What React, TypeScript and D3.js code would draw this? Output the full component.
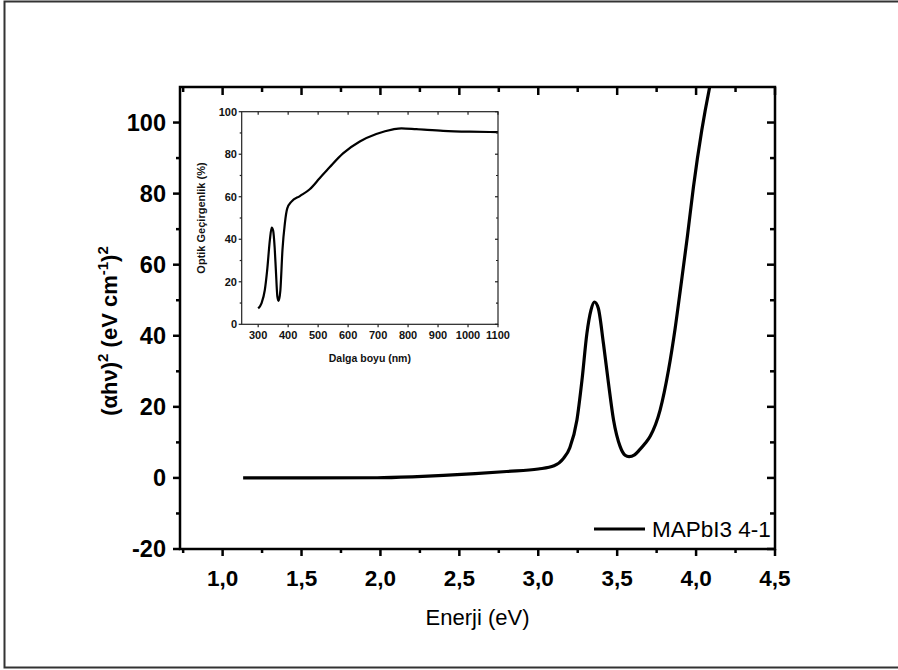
import React from 'react';
import * as d3 from 'd3';

// Main curve: (αhν)² versus photon energy
const energy = [1.13, 1.5, 1.98, 2.2, 2.4, 2.6, 2.8, 3.0, 3.1, 3.16, 3.2, 3.245, 3.277, 3.308, 3.334, 3.356, 3.38, 3.413, 3.445, 3.477, 3.519, 3.55, 3.575, 3.61, 3.64, 3.675, 3.71, 3.772, 3.825, 3.867, 3.905, 3.945, 3.983, 4.036, 4.084, 4.11];
const absorbance = [0, 0, 0.05, 0.3, 0.7, 1.2, 1.8, 2.5, 3.4, 5.5, 8.5, 16.3, 27.5, 40.6, 47.2, 49.5, 47.8, 37.8, 26.6, 16.3, 8.8, 6.4, 6.0, 6.5, 7.8, 9.6, 11.8, 19.1, 30.3, 42, 54.5, 68, 81.8, 97.8, 109.5, 115];

// Inset: optical transmittance versus wavelength
const wavelength = [300, 311, 322, 330, 339, 345, 350, 355, 359, 364, 368, 374, 381, 389, 397, 411, 439, 472, 505, 539, 583, 639, 694, 750, 778, 828, 917, 1005, 1100];
const transmittance = [7.5, 9.9, 16, 25.5, 39.7, 45.5, 44, 36, 25.5, 13, 11, 16, 35, 47.5, 54.5, 57.7, 60.3, 63.5, 68.7, 74, 80.4, 86, 89.5, 91.7, 92.2, 91.8, 91, 90.6, 90.4];

const xTicks = [1.0, 1.5, 2.0, 2.5, 3.0, 3.5, 4.0, 4.5];
const xMinorTicks = [0.75, 1.25, 1.75, 2.25, 2.75, 3.25, 3.75, 4.25];
const yTicks = [-20, 0, 20, 40, 60, 80, 100];
const yMinorTicks = [-10, 10, 30, 50, 70, 90];
const insetXTicks = [300, 400, 500, 600, 700, 800, 900, 1000, 1100];
const insetYTicks = [0, 20, 40, 60, 80, 100];
const insetYMinorTicks = [10, 30, 50, 70, 90];

const seriesName = 'MAPbI3 4-1';
const xTitle = 'Enerji (eV)';
const insetXTitle = 'Dalga boyu (nm)';
const insetYTitle = 'Optik Geçirgenlik (%)';

const W = 898;
const H = 670;
const FONT = 'Liberation Sans, Arial, Helvetica, sans-serif';

const plot = { left: 180, right: 775, top: 87, bottom: 549 };
const inset = { left: 241.7, right: 498, top: 111.7, bottom: 324.3 };

const comma = (v: number) => d3.format('.1f')(v).replace('.', ',');

export default function App() {
  const x = d3.scaleLinear().domain([0.73, 4.5]).range([plot.left, plot.right]);
  const y = d3.scaleLinear().domain([-20, 110]).range([plot.bottom, plot.top]);
  const ix = d3.scaleLinear().domain([245, 1100]).range([inset.left, inset.right]);
  const iy = d3.scaleLinear().domain([0, 100]).range([inset.bottom, inset.top]);

  const mainPts = energy.map((e, i) => [e, absorbance[i]] as [number, number]);
  const insetPts = wavelength.map((w, i) => [w, transmittance[i]] as [number, number]);

  const mainLine = d3
    .line<[number, number]>()
    .x((d) => x(d[0]))
    .y((d) => y(d[1]))
    .curve(d3.curveMonotoneX);
  const insetLine = d3
    .line<[number, number]>()
    .x((d) => ix(d[0]))
    .y((d) => iy(d[1]))
    .curve(d3.curveMonotoneX);

  const MAJ = 7;
  const MIN = 4;

  return (
    <svg
      width={W}
      height={H}
      viewBox={`0 0 ${W} ${H}`}
      style={{ position: 'absolute', left: 0, top: 0, background: '#fff' }}
      fontFamily={FONT}
    >
      <rect x={0} y={0} width={W} height={H} fill="#fff" />
      {/* outer frame */}
      <rect x={4.5} y={1.5} width={W + 10} height={666} fill="none" stroke="#333" strokeWidth={2} />

      <defs>
        <clipPath id="plot-clip">
          <rect x={plot.left} y={plot.top} width={plot.right - plot.left} height={plot.bottom - plot.top} />
        </clipPath>
      </defs>

      {/* main curve */}
      <path d={mainLine(mainPts) || ''} fill="none" stroke="#000" strokeWidth={3.2} clipPath="url(#plot-clip)" strokeLinejoin="round" />

      {/* main axes box */}
      <rect
        x={plot.left}
        y={plot.top}
        width={plot.right - plot.left}
        height={plot.bottom - plot.top}
        fill="none"
        stroke="#000"
        strokeWidth={2.5}
      />

      {/* x ticks: bottom outward, top inward */}
      {xTicks.map((t) => (
        <g key={`xt${t}`}>
          <line x1={x(t)} x2={x(t)} y1={plot.bottom} y2={plot.bottom + MAJ} stroke="#000" strokeWidth={2.5} />
          <line x1={x(t)} x2={x(t)} y1={plot.top} y2={plot.top + MAJ + 1} stroke="#000" strokeWidth={2.5} />
          <text x={x(t)} y={586} textAnchor="middle" fontSize={22.5} fontWeight="bold">
            {comma(t)}
          </text>
        </g>
      ))}
      {xMinorTicks.map((t) => (
        <g key={`xm${t}`}>
          <line x1={x(t)} x2={x(t)} y1={plot.bottom} y2={plot.bottom + MIN} stroke="#000" strokeWidth={2.5} />
          <line x1={x(t)} x2={x(t)} y1={plot.top} y2={plot.top + MIN + 1} stroke="#000" strokeWidth={2.5} />
        </g>
      ))}

      {/* y ticks: left outward, right inward */}
      {yTicks.map((t) => (
        <g key={`yt${t}`}>
          <line x1={plot.left - MAJ} x2={plot.left} y1={y(t)} y2={y(t)} stroke="#000" strokeWidth={2.5} />
          <line x1={plot.right - MAJ - 1} x2={plot.right} y1={y(t)} y2={y(t)} stroke="#000" strokeWidth={2.5} />
          <text x={166} y={y(t)} dy="0.36em" textAnchor="end" fontSize={23.5} fontWeight="bold">
            {t}
          </text>
        </g>
      ))}
      {yMinorTicks.map((t) => (
        <g key={`ym${t}`}>
          <line x1={plot.left - MIN} x2={plot.left} y1={y(t)} y2={y(t)} stroke="#000" strokeWidth={2.5} />
          <line x1={plot.right - MIN - 1} x2={plot.right} y1={y(t)} y2={y(t)} stroke="#000" strokeWidth={2.5} />
        </g>
      ))}

      {/* axis titles */}
      <text x={(plot.left + plot.right) / 2} y={625} textAnchor="middle" fontSize={22}>
        {xTitle}
      </text>
      <text transform="translate(117, 331) rotate(-90)" textAnchor="middle" fontSize={22} fontWeight="bold">
        (αhν)
        <tspan fontSize={15} dy={-9}>2</tspan>
        <tspan dy={9}> (eV cm</tspan>
        <tspan fontSize={15} dy={-9}>-1</tspan>
        <tspan dy={9}>)</tspan>
        <tspan fontSize={15} dy={-9}>2</tspan>
      </text>

      {/* legend */}
      <line x1={594} x2={645} y1={529} y2={529} stroke="#000" strokeWidth={3.2} />
      <text x={652} y={536.5} fontSize={22.5}>
        {seriesName}
      </text>

      {/* inset */}
      <path d={insetLine(insetPts) || ''} fill="none" stroke="#000" strokeWidth={2.2} strokeLinejoin="round" />
      <rect
        x={inset.left}
        y={inset.top}
        width={inset.right - inset.left}
        height={inset.bottom - inset.top}
        fill="none"
        stroke="#222"
        strokeWidth={1.2}
      />
      {insetXTicks.map((t) => (
        <g key={`ixt${t}`}>
          <line x1={ix(t)} x2={ix(t)} y1={inset.bottom} y2={inset.bottom + 3} stroke="#222" strokeWidth={1.2} />
          <line x1={ix(t)} x2={ix(t)} y1={inset.top} y2={inset.top + 3} stroke="#222" strokeWidth={1.2} />
          <text x={ix(t)} y={338.5} textAnchor="middle" fontSize={11} fontWeight="bold" fill="#111">
            {t}
          </text>
        </g>
      ))}
      {insetYTicks.map((t) => (
        <g key={`iyt${t}`}>
          <line x1={inset.left - 3} x2={inset.left} y1={iy(t)} y2={iy(t)} stroke="#222" strokeWidth={1.2} />
          <line x1={inset.right - 3} x2={inset.right} y1={iy(t)} y2={iy(t)} stroke="#222" strokeWidth={1.2} />
          <text x={237} y={iy(t)} dy="0.36em" textAnchor="end" fontSize={11} fontWeight="bold" fill="#111">
            {t}
          </text>
        </g>
      ))}
      {insetYMinorTicks.map((t) => (
        <g key={`iym${t}`}>
          <line x1={inset.left - 2} x2={inset.left} y1={iy(t)} y2={iy(t)} stroke="#222" strokeWidth={1.2} />
          <line x1={inset.right - 2} x2={inset.right} y1={iy(t)} y2={iy(t)} stroke="#222" strokeWidth={1.2} />
        </g>
      ))}
      <text x={(inset.left + inset.right) / 2} y={361.5} textAnchor="middle" fontSize={10.5} fontWeight="bold" fill="#111">
        {insetXTitle}
      </text>
      <text
        transform={`translate(205, ${(inset.top + inset.bottom) / 2}) rotate(-90)`}
        textAnchor="middle"
        fontSize={11}
        fontWeight="bold"
        fill="#111"
      >
        {insetYTitle}
      </text>
    </svg>
  );
}
